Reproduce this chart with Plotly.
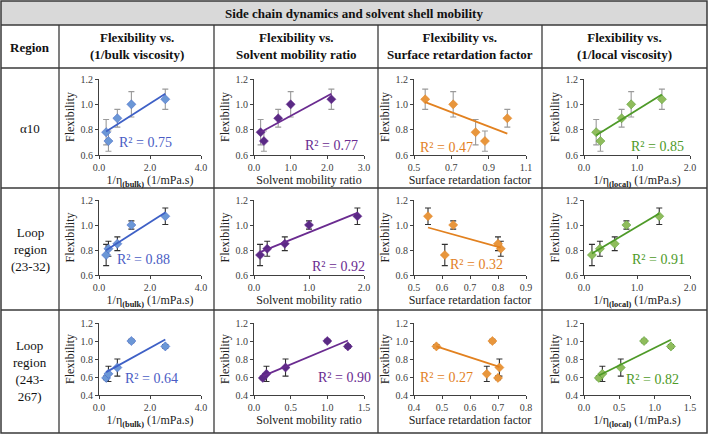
import numpy as np
import plotly.graph_objects as go

# ---------------- data ----------------
rows = ["α10", "Loop<br>region<br>(23-32)", "Loop<br>region<br>(243-<br>267)"]
col_headers = ["Flexibility vs.<br>(1/bulk viscosity)", "Flexibility vs.<br>Solvent mobility ratio",
               "Flexibility vs.<br>Surface retardation factor", "Flexibility vs.<br>(1/local viscosity)"]
title = "Side chain dynamics and solvent shell mobility"

flex_a10 = [0.78, 0.71, 0.89, 1.00, 1.04]
err_a10 = [0.10, 0.08, 0.07, 0.10, 0.08]
flex_l1 = [0.76, 0.81, 0.85, 1.00, 1.07]
err_l1 = [0.085, 0.06, 0.055, 0.033, 0.066]
flex_l2 = [0.59, 0.635, 0.705, 1.00, 0.94]
err_l2 = [0.02, 0.085, 0.095, 0.02, 0.02]

inv_bulk = [0.28, 0.37, 0.72, 1.27, 2.60]

mob_a10 = [0.18, 0.27, 0.66, 1.00, 2.11]
mob_l1 = [0.11, 0.24, 0.56, 1.00, 1.88]
mob_l2 = [0.12, 0.17, 0.43, 1.00, 1.28]

ret_a10 = [0.83, 0.88, 1.00, 0.71, 0.56]
ret_l1 = [0.61, 0.81, 0.80, 0.64, 0.55]
ret_l2 = [0.70, 0.66, 0.705, 0.68, 0.48]

loc_a10 = [0.23, 0.31, 0.71, 0.89, 1.47]
loc_l1 = [0.15, 0.30, 0.58, 0.80, 1.42]
loc_l2 = [0.21, 0.26, 0.52, 0.85, 1.23]

r2_labels = [["R² = 0.75", "R² = 0.77", "R² = 0.47", "R² = 0.85"],
             ["R² = 0.88", "R² = 0.92", "R² = 0.32", "R² = 0.91"],
             ["R² = 0.64", "R² = 0.90", "R² = 0.27", "R² = 0.82"]]

x_titles = ["1/η<sub><b>(bulk)</b></sub> (1/mPa.s)", "Solvent mobility ratio",
            "Surface retardation factor", "1/η<sub><b>(local)</b></sub> (1/mPa.s)"]

# tick label sets
x_ticks = [[[0.0, 2.0, 4.0], [0.0, 1.0, 2.0, 3.0], [0.5, 0.7, 0.9, 1.1], [0.0, 1.0, 2.0]],
           [[0.0, 2.0, 4.0], [0.0, 1.0, 2.0], [0.5, 0.6, 0.7, 0.8, 0.9], [0.0, 1.0, 2.0]],
           [[0.0, 2.0, 4.0], [0.0, 0.5, 1.0, 1.5], [0.4, 0.5, 0.6, 0.7, 0.8], [0.0, 0.5, 1.0, 1.5]]]
y_ticks = [[0.6, 0.8, 1.0, 1.2], [0.6, 0.8, 1.0, 1.2], [0.4, 0.6, 0.8, 1.0, 1.2]]

# ---------------- layout helpers ----------------
W, H = 708, 434
def px(x): return x / W
def py(y): return 1 - y / H

FONT = "Liberation Serif, Times New Roman, serif"
col_dom = [(99, 201), (254, 364), (414, 526), (584, 690)]
row_dom = [(79, 155), (200, 275), (323, 395)]

flex = [flex_a10, flex_l1, flex_l2]
errs = [err_a10, err_l1, err_l2]
xs = [[inv_bulk, mob_a10, ret_a10, loc_a10],
      [inv_bulk, mob_l1, ret_l1, loc_l1],
      [inv_bulk, mob_l2, ret_l2, loc_l2]]
r2_pos = [[(0.46, 0.17), (0.70, 0.12), (0.29, 0.10), (0.69, 0.11)],
          [(0.44, 0.21), (0.77, 0.11), (0.56, 0.14), (0.70, 0.21)],
          [(0.51, 0.235), (0.82, 0.25), (0.29, 0.25), (0.65, 0.21)]]

marker_col = ["#6b97d6", "#5a2a85", "#e8963c", "#8fbc5c"]
line_col = ["#3e60c6", "#6a2b90", "#e2811f", "#4e9a28"]
text_col = ["#4a5cc4", "#6a2b90", "#e2811f", "#4e9a28"]
err_col = ["#9a9a9a", "#303030", "#303030"]

fig = go.Figure()
layout = dict(width=W, height=H, margin=dict(l=0, r=0, t=0, b=0, autoexpand=False),
              paper_bgcolor="white", plot_bgcolor="white", showlegend=False,
              font=dict(family=FONT, color="#222"))
annotations = []
shapes = []

k = 0
for r in range(3):
    for c in range(4):
        k += 1
        xa = "x" if k == 1 else f"x{k}"
        ya = "y" if k == 1 else f"y{k}"
        x = np.array(xs[r][c], dtype=float)
        y = np.array(flex[r], dtype=float)
        fig.add_trace(go.Scatter(x=x, y=y, mode="markers", xaxis=xa, yaxis=ya,
                                 marker=dict(symbol="diamond", size=7, color=marker_col[c],
                                             line=dict(width=0.5, color=line_col[c])),
                                 error_y=dict(type="data", array=errs[r], color=err_col[r],
                                              thickness=1.1, width=3)))
        m, b = np.polyfit(x, y, 1)
        xl = np.array([x.min(), x.max()])
        fig.add_trace(go.Scatter(x=xl, y=m * xl + b, mode="lines", xaxis=xa, yaxis=ya,
                                 line=dict(color=line_col[c], width=1.8)))
        xt = x_ticks[r][c]
        yt = y_ticks[r]
        common = dict(showline=True, linecolor="#404040", linewidth=1, ticks="outside",
                      ticklen=3, tickcolor="#404040", showgrid=False, zeroline=False,
                      automargin=False,
                      tickfont=dict(family=FONT, size=10, color="#404040"))
        layout["xaxis" if k == 1 else f"xaxis{k}"] = dict(
            domain=[px(col_dom[c][0]), px(col_dom[c][1])], anchor=ya,
            range=[xt[0], xt[-1]], tickmode="array", tickvals=xt,
            ticktext=[f"{v:.1f}" for v in xt],
            title=dict(text=x_titles[c], font=dict(family=FONT, size=12, color="#222"), standoff=2),
            **common)
        layout["yaxis" if k == 1 else f"yaxis{k}"] = dict(
            domain=[py(row_dom[r][1]), py(row_dom[r][0])], anchor=xa,
            range=[yt[0], yt[-1]], tickmode="array", tickvals=yt,
            ticktext=[f"{v:.1f}" for v in yt],
            title=dict(text="Flexibility", font=dict(family=FONT, size=12, color="#222"), standoff=3),
            **common)
        fx, fy = r2_pos[r][c]
        annotations.append(dict(text=r2_labels[r][c], xref=f"{xa} domain", yref=f"{ya} domain",
                                x=fx, y=fy, showarrow=False, xanchor="center", yanchor="middle",
                                font=dict(family=FONT, size=14, color=text_col[c])))

# ---------------- table ----------------
LC = "#3a3a3a"
shapes.append(dict(type="rect", xref="paper", yref="paper", x0=px(1), x1=px(707), y0=py(1), y1=py(25),
                   fillcolor="#d9d9d9", line=dict(width=0), layer="below"))
shapes.append(dict(type="rect", xref="paper", yref="paper", x0=px(1), x1=px(707), y0=py(433), y1=py(1),
                   line=dict(color=LC, width=1.5)))
for yy in [25, 68, 188, 310]:
    shapes.append(dict(type="line", xref="paper", yref="paper", x0=px(1), x1=px(707), y0=py(yy), y1=py(yy),
                       line=dict(color=LC, width=1.3)))
for xx in [59, 214, 378, 542]:
    shapes.append(dict(type="line", xref="paper", yref="paper", x0=px(xx), x1=px(xx), y0=py(25), y1=py(433),
                       line=dict(color=LC, width=1.3)))

def ann(text, x, y, size):
    annotations.append(dict(text=text, xref="paper", yref="paper", x=px(x), y=py(y),
                            xanchor="center", yanchor="middle", showarrow=False,
                            font=dict(family=FONT, size=size, color="#111")))

ann(f"<b>{title}</b>", 354, 13, 13)
ann("<b>Region</b>", 30, 47, 13)
centers = [(59 + 214) / 2, (214 + 378) / 2, (378 + 542) / 2, (542 + 707) / 2]
for c in range(4):
    ann(f"<b>{col_headers[c]}</b>", centers[c], 46, 13)
row_centers = [128, 249, 371]
for r in range(3):
    ann(rows[r], 30, row_centers[r], 13)

layout["annotations"] = annotations
layout["shapes"] = shapes
fig.update_layout(**layout)
fig.write_html("out.html", config={"displayModeBar": False},
               post_script="document.body.style.margin='0';")
